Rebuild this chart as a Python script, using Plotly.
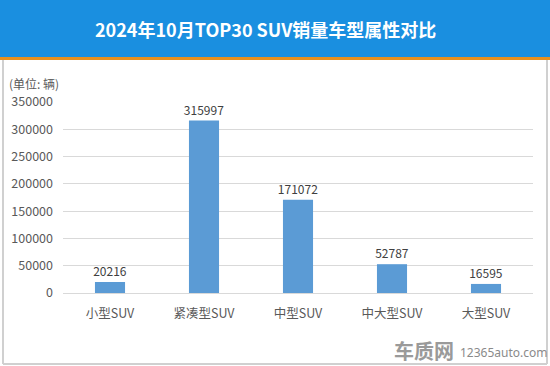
import plotly.graph_objects as go

categories = ["小型SUV", "紧凑型SUV", "中型SUV", "中大型SUV", "大型SUV"]
sales = [20216, 315997, 171072, 52787, 16595]
y_ticks = [0, 50000, 100000, 150000, 200000, 250000, 300000, 350000]

W, H = 550, 366
PW, PH = 470, 191
fig = go.Figure()
fig.add_trace(go.Bar(
    x=categories, y=sales,
    marker=dict(color="#5B9BD5", line=dict(width=0)),
    text=[str(v) for v in sales], textposition="outside", constraintext="none",
    textfont=dict(size=12, color="#404040", family="Noto Sans CJK SC"),
    cliponaxis=False, width=0.32,
))

fig.update_layout(
    width=W, height=H,
    margin=dict(l=63, r=17, t=102, b=73),
    paper_bgcolor="white", plot_bgcolor="white",
    showlegend=False,
    font=dict(family="Noto Sans CJK SC", color="#595959", size=12),
    xaxis=dict(showgrid=False, showline=False, ticks="", automargin=False,
               ticklabelstandoff=11,
               tickfont=dict(size=12.5, color="#595959")),
    yaxis=dict(range=[0, 350000], tickvals=y_ticks, ticktext=[str(v) for v in y_ticks],
               showgrid=True, gridcolor="#D9D9D9", gridwidth=1, automargin=False,
               zeroline=True, zerolinecolor="#D9D9D9", zerolinewidth=1,
               showline=False, ticks="", ticklabelstandoff=9,
               tickfont=dict(size=12.5, color="#595959")),
    shapes=[
        dict(type="rect", xref="paper", yref="paper", x0=-63/PW, x1=1+17/PW,
             y0=1+(102-57)/PH, y1=1+102/PH, fillcolor="#1A8FE0", line=dict(width=0), layer="below"),
        dict(type="rect", xref="paper", yref="paper", x0=-63/PW, x1=1+17/PW,
             y0=1+(102-60)/PH, y1=1+(102-57)/PH, fillcolor="#E8901E", line=dict(width=0), layer="below"),
        dict(type="line", xref="paper", yref="paper", x0=-60/PW, x1=-60/PW,
             y0=-71/PH, y1=1+(102-60)/PH, line=dict(color="#D0D0D0", width=2)),
        dict(type="line", xref="paper", yref="paper", x0=1+14/PW, x1=1+14/PW,
             y0=-71/PH, y1=1+(102-60)/PH, line=dict(color="#D0D0D0", width=2)),
        dict(type="line", xref="paper", yref="paper", x0=-60/PW, x1=1+14/PW,
             y0=-71/PH, y1=-71/PH, line=dict(color="#D0D0D0", width=2)),
    ],
    annotations=[
        dict(text="<b>2024年10月TOP30 SUV销量车型属性对比</b>", xref="paper", yref="paper",
             x=(265-63)/PW, y=1+(102-29)/PH, xanchor="center", yanchor="middle", showarrow=False,
             font=dict(size=18, color="white", family="Noto Sans CJK SC")),
        dict(text="(单位: 辆)", xref="paper", yref="paper", x=-56/PW, y=1+(102-83)/PH,
             xanchor="left", yanchor="middle", showarrow=False,
             font=dict(size=12, color="#595959")),
        dict(text="<b>车质网</b>", xref="paper", yref="paper", x=(456-63)/PW, y=-(350-293)/PH,
             xanchor="right", yanchor="middle", showarrow=False,
             font=dict(size=20, color="#9A9A9A")),
        dict(text="12365auto.com", xref="paper", yref="paper", x=(458-63)/PW, y=-(352-293)/PH,
             xanchor="left", yanchor="middle", showarrow=False,
             font=dict(size=12, color="#8A8A8A", family="Noto Sans")),
    ],
)

fig.write_html("out.html", config={"displayModeBar": False},
               post_script="document.body.style.margin='0';document.body.style.padding='0';document.body.style.overflow='hidden';")
